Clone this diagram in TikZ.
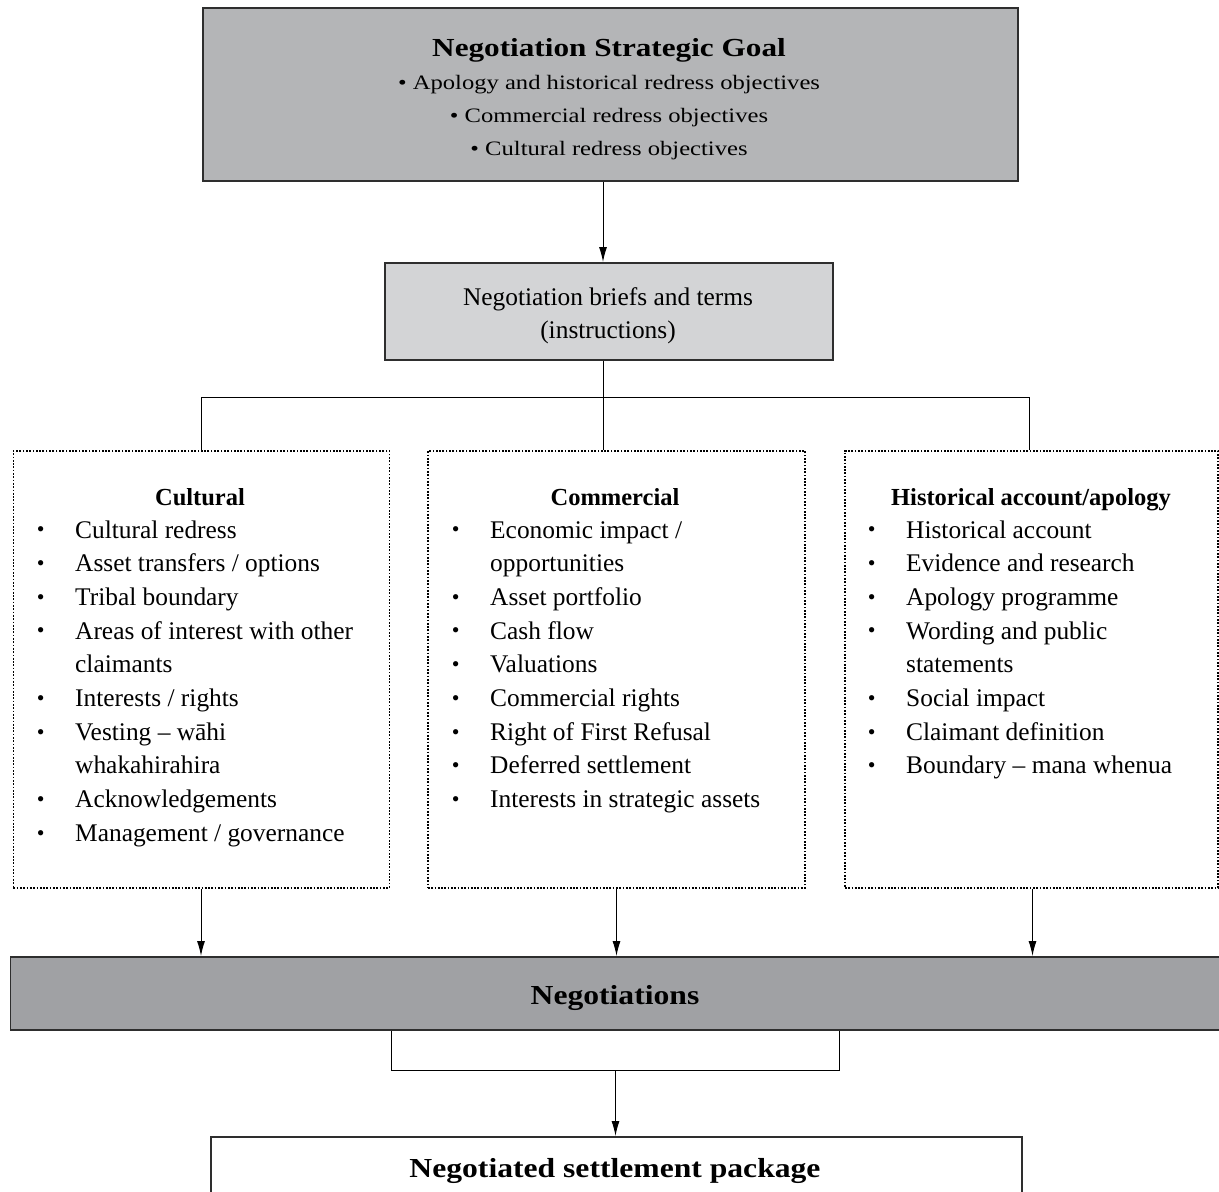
\documentclass[tikz,border=0pt]{standalone}
\usepackage{fontspec}
\setmainfont{Liberation Serif}
\newfontfamily\wideA{Liberation Serif}[FakeStretch=1.2]
\newfontfamily\wideB{Liberation Serif}[FakeStretch=1.15]
\usetikzlibrary{arrows.meta}
\definecolor{goalfill}{HTML}{B4B5B7}
\definecolor{brieffill}{HTML}{D3D4D6}
\definecolor{negfill}{HTML}{A0A1A4}
\definecolor{edgecol}{HTML}{2E2E2E}
\newcommand{\bul}{\makebox[39.4pt][l]{\hspace*{1pt}\raisebox{1.2pt}{\fontsize{22}{22}\selectfont\textbullet}}}
\newcommand{\cont}{\hspace*{39.4pt}}
\tikzset{
  box/.style={draw=edgecol, line width=1.5pt, rectangle, inner sep=0pt, anchor=north west},
  dotbox/.style={draw=black, line width=1.8pt, dash pattern=on 1.7pt off 1.6pt, rectangle, inner sep=0pt, anchor=north west},
  conn/.style={draw=black, line width=1pt},
  arr/.style={conn, -{Latex[length=15pt,width=8pt]}},
  txt/.style={inner sep=0pt, anchor=base, align=center},
  lst/.style={inner sep=0pt, anchor=base west, font={\fontsize{25.4}{33.7}\selectfont}},
  ttl/.style={inner sep=0pt, anchor=base, font={\bfseries\fontsize{24.5}{30}\selectfont}},
  goaltxt/.style={txt, font={\wideA\fontsize{20.5}{24}\selectfont}},
  brieftxt/.style={txt, font={\fontsize{25.4}{30}\selectfont}},
  bigb/.style={txt, font={\wideB\bfseries\fontsize{27.5}{30}\selectfont}},
}
\begin{document}
\begin{tikzpicture}[x=1pt,y=-1pt]
\useasboundingbox (0,0) rectangle (1219,1192);
\clip (0,0) rectangle (1219,1192);

% boxes
\node[box, fill=goalfill, minimum width=815pt, minimum height=173pt] (goal) at (202,7) {};
\node[box, fill=brieffill, minimum width=448pt, minimum height=97pt] (brief) at (384,262) {};
\node[dotbox, minimum width=376pt, minimum height=437pt] (cult) at (12.5,450) {};
\node[dotbox, minimum width=377pt, minimum height=437pt] (comm) at (427,450) {};
\node[dotbox, minimum width=373pt, minimum height=437pt] (hist) at (844,450) {};
\node[box, fill=negfill, minimum width=1215pt, minimum height=73pt] (neg) at (9.5,956) {};
\node[box, fill=white, minimum width=811pt, minimum height=90pt] (pkg) at (210,1136) {};

% goal texts
\node[txt, font={\wideA\bfseries\fontsize{26}{28}\selectfont}] (goalT) at (609,56) {Negotiation Strategic Goal};
\node[goaltxt] (goal1) at (609,89) {\textbullet\ Apology and historical redress objectives};
\node[goaltxt] (goal2) at (609,122) {\textbullet\ Commercial redress objectives};
\node[goaltxt] (goal3) at (609,155) {\textbullet\ Cultural redress objectives};

% brief texts
\node[brieftxt] (brief1) at (608,305) {Negotiation briefs and terms};
\node[brieftxt] (brief2) at (608,338) {(instructions)};

% column titles
\node[ttl] (cultT) at (200,505) {Cultural};
\node[ttl] (commT) at (615,505) {Commercial};
\node[ttl] (histT) at (1031,505) {Historical account/apology};

% lists
\node[lst] (cultL) at (35.6,538) {\begin{tabular}[t]{@{}l@{}}
\bul Cultural redress\\
\bul Asset transfers / options\\
\bul Tribal boundary\\
\bul Areas of interest with other\\
\cont claimants\\
\bul Interests / rights\\
\bul Vesting – wāhi\\
\cont whakahirahira\\
\bul Acknowledgements\\
\bul Management / governance
\end{tabular}};
\node[lst] (commL) at (450.6,538) {\begin{tabular}[t]{@{}l@{}}
\bul Economic impact /\\
\cont opportunities\\
\bul Asset portfolio\\
\bul Cash flow\\
\bul Valuations\\
\bul Commercial rights\\
\bul Right of First Refusal\\
\bul Deferred settlement\\
\bul Interests in strategic assets
\end{tabular}};
\node[lst] (histL) at (866.6,538) {\begin{tabular}[t]{@{}l@{}}
\bul Historical account\\
\bul Evidence and research\\
\bul Apology programme\\
\bul Wording and public\\
\cont statements\\
\bul Social impact\\
\bul Claimant definition\\
\bul Boundary – mana whenua
\end{tabular}};

% bottom texts
\node[bigb] (negT) at (615,1004) {Negotiations};
\node[bigb] (pkgT) at (615,1177) {Negotiated settlement package};

% connectors
\coordinate (j0) at (603,397);
\coordinate (jL) at (201,397);
\coordinate (jR) at (1029,397);
\draw[arr] (goal.south -| j0) -- (brief.north -| j0);
\draw[conn] (brief.south -| j0) -- (j0);
\draw[conn] (cult.north -| jL) -- (jL) -- (jR) -- (hist.north -| jR);
\draw[conn] (j0) -- (comm.north -| j0);

\coordinate (aL) at (201,920);
\coordinate (aM) at (616.5,920);
\coordinate (aR) at (1032.5,920);
\draw[arr] (cult.south -| aL) -- (neg.north -| aL);
\draw[arr] (comm.south -| aM) -- (neg.north -| aM);
\draw[arr] (hist.south -| aR) -- (neg.north -| aR);

\coordinate (bL) at (391,1070);
\coordinate (bR) at (839,1070);
\coordinate (bM) at (615.5,1070);
\draw[conn] (neg.south -| bL) -- (bL) -- (bR) -- (neg.south -| bR);
\draw[arr] (bM) -- (pkg.north -| bM);
\end{tikzpicture}
\end{document}
